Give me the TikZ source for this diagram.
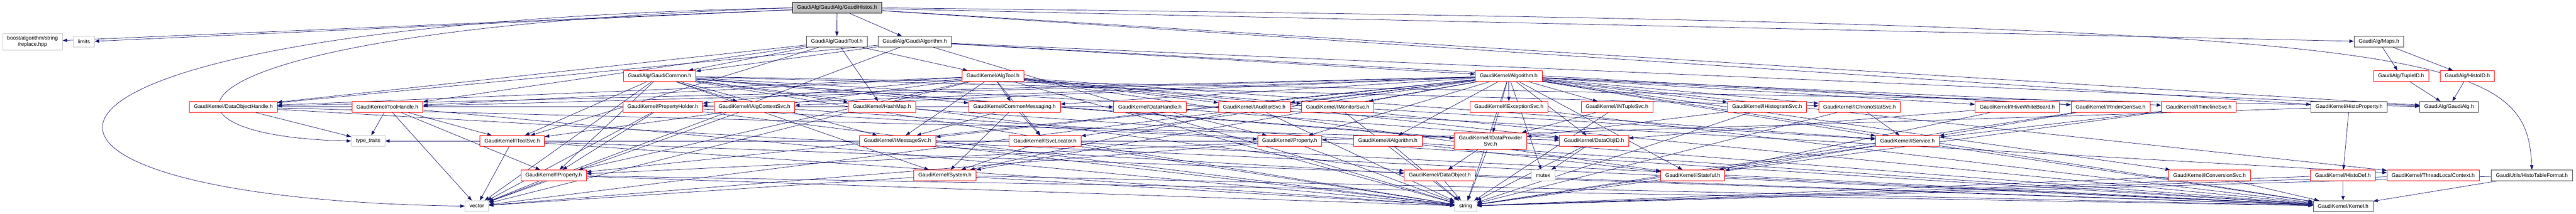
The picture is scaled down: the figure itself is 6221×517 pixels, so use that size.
\documentclass[tikz,border=0pt]{standalone}
\usepackage{fontspec}
\setmainfont{Liberation Sans}
\usepackage{tikz}
\usetikzlibrary{arrows.meta, positioning, backgrounds}
\definecolor{edgeblue}{RGB}{25,25,112}
\definecolor{rootgrey}{RGB}{191,191,191}
\definecolor{sysgrey}{RGB}{200,200,200}
\tikzset{
->, % every connector is an include
>={Triangle[length=11pt,width=8pt]}, % filled heads like dot draws them
dep/.style={draw=edgeblue, line width=0.9pt}, % include lines
every edge/.style={dep},
file/.style={draw, fill=white, rectangle, line width=1pt, inner xsep=11pt, minimum height=26pt, align=center, font=\fontsize{12.8}{15}\selectfont}, % one header
root/.style={file, draw=black, fill=rootgrey},
known/.style={file, draw=black!75},
cut/.style={file, draw=red}, % graph cut below this header
sys/.style={file, draw=sysgrey},
}

\begin{document}
\begin{tikzpicture}[x=1pt, y=-1pt]
\useasboundingbox (0,0) rectangle (6221,517);
% top
\node[root] (gh) at (2021.5,19) {GaudiAlg/GaudiAlg/GaudiHistos.h};
% first row
\node[sys, minimum height=40pt] (boost) at (78.5,101) {boost/algorithm/string\\/replace.hpp};
\node[sys] (limits) at (202.5,101) {limits};
\node[known] (gtool) at (2021,101) {GaudiAlg/GaudiTool.h};
\node[known] (galgo) at (2209,101) {GaudiAlg/GaudiAlgorithm.h};
\node[known] (maps) at (5745,101) {GaudiAlg/Maps.h};
% second row
\node[cut] (gcommon) at (1593,184) {GaudiAlg/GaudiCommon.h};
\node[cut] (algtool) at (2398,184) {GaudiKernel/AlgTool.h};
\node[cut] (algorithm) at (3643.5,184) {GaudiKernel/Algorithm.h};
\node[cut] (tupleid) at (5798.5,184) {GaudiAlg/TupleID.h};
\node[cut] (histoid) at (5958.5,184) {GaudiAlg/HistoID.h};
% third row
\node[cut] (dohandle) at (563.5,258.5) {GaudiKernel/DataObjectHandle.h};
\node[cut] (toolhandle) at (935.5,258.5) {GaudiKernel/ToolHandle.h};
\node[cut] (propholder) at (1600.5,258.5) {GaudiKernel/PropertyHolder.h};
\node[cut] (algctx) at (1822,258.5) {GaudiKernel/IAlgContextSvc.h};
\node[cut] (hashmap) at (2130,258.5) {GaudiKernel/HashMap.h};
\node[cut] (commsg) at (2450,258.5) {GaudiKernel/CommonMessaging.h};
\node[cut] (datahandle) at (2777,258.5) {GaudiKernel/DataHandle.h};
\node[cut] (iauditor) at (3029,258.5) {GaudiKernel/IAuditorSvc.h};
\node[cut] (imonitor) at (3230.5,258.5) {GaudiKernel/IMonitorSvc.h};
\node[cut] (iexception) at (3644,258.5) {GaudiKernel/IExceptionSvc.h};
\node[cut] (intuple) at (3905,258.5) {GaudiKernel/INTupleSvc.h};
\node[cut] (ihisto) at (4267.5,258.5) {GaudiKernel/IHistogramSvc.h};
\node[cut] (ichrono) at (4490.5,258.5) {GaudiKernel/IChronoStatSvc.h};
\node[cut] (ihive) at (4871.5,258.5) {GaudiKernel/IHiveWhiteBoard.h};
\node[cut] (irndm) at (5097,258.5) {GaudiKernel/IRndmGenSvc.h};
\node[cut] (itimeline) at (5310,258.5) {GaudiKernel/ITimelineSvc.h};
\node[known] (histoprop) at (5673,258.5) {GaudiKernel/HistoProperty.h};
\node[known] (gaudialg) at (5914.5,258.5) {GaudiAlg/GaudiAlg.h};
% fourth row
\node[sys] (typetraits) at (889,341) {type\_traits};
\node[cut] (itoolsvc) at (1237,341) {GaudiKernel/IToolSvc.h};
\node[cut] (imsgsvc) at (2167.5,341) {GaudiKernel/IMessageSvc.h};
\node[cut] (isvcloc) at (2523.5,341) {GaudiKernel/ISvcLocator.h};
\node[cut] (property) at (3114.5,341) {GaudiKernel/Property.h};
\node[cut] (ialgorithm) at (3351.5,341) {GaudiKernel/IAlgorithm.h};
\node[cut, minimum height=40pt] (idataprov) at (3599.5,341) {GaudiKernel/IDataProvider\\Svc.h};
\node[cut] (dataobjid) at (3849.5,341) {GaudiKernel/DataObjID.h};
\node[cut] (iservice) at (4606.5,341) {GaudiKernel/IService.h};
% fifth row
\node[cut] (iproperty) at (1337,424) {GaudiKernel/IProperty.h};
\node[cut] (system) at (2282,424) {GaudiKernel/System.h};
\node[cut] (dataobject) at (3477,424) {GaudiKernel/DataObject.h};
\node[sys] (mutex) at (3726.5,424) {mutex};
\node[cut] (istateful) at (4088,424) {GaudiKernel/IStateful.h};
\node[cut] (iconv) at (5336,424) {GaudiKernel/IConversionSvc.h};
\node[cut] (histodef) at (5658,424) {GaudiKernel/HistoDef.h};
\node[cut] (tlctx) at (5876,424) {GaudiKernel/ThreadLocalContext.h};
\node[known] (histotable) at (6114.5,424) {GaudiUtils/HistoTableFormat.h};
% bottom row
\node[sys] (vector) at (1151.5,498.5) {vector};
\node[sys] (string) at (3539.5,498.5) {string};
\node[known] (kernel) at (5658.5,498.5) {GaudiKernel/Kernel.h};

\begin{scope}[on background layer]
% the long ones dot routes round the side
\draw[dep] (gh.west) .. controls (-150,60) and (-150,480) .. (vector.west);
\draw[dep] (gh.west) .. controls (350,70) and (300,330) .. (typetraits.west);
\draw[dep] (gh.east) .. controls (5900,60) and (6100,110) .. (histotable.north);

\draw
    (gh) edge (boost)
    (gh) edge (limits)
    (gh) edge (gtool)
    (gh) edge (galgo)
    (gh) edge (maps)
    (gh) edge (histoprop)
    (gh) edge (gaudialg)
    (gtool) edge (gcommon)
    (gtool) edge (algtool)
    (gtool) edge (dohandle)
    (gtool) edge (toolhandle)
    (gtool) edge (itoolsvc)
    (gtool) edge (hashmap)
    (galgo) edge (gcommon)
    (galgo) edge (algorithm)
    (galgo) edge (dohandle)
    (galgo) edge (gaudialg)
    (galgo) edge (irndm)
    (galgo) edge (vector)
    (galgo) edge (string)
    (gcommon) edge (gaudialg)
    (gcommon) edge (algctx)
    (gcommon) edge (hashmap)
    (gcommon) edge (commsg)
    (gcommon) edge (imsgsvc)
    (gcommon) edge (itoolsvc)
    (gcommon) edge (ichrono)
    (gcommon) edge (idataprov)
    (gcommon) edge (dataobject)
    (gcommon) edge (system)
    (gcommon) edge (tlctx)
    (gcommon) edge (iproperty)
    (gcommon) edge (vector)
    (gcommon) edge (string)
    (gcommon) edge (kernel)
    (algtool) edge (propholder)
    (algtool) edge (commsg)
    (algtool) edge (isvcloc)
    (algtool) edge (imsgsvc)
    (algtool) edge (toolhandle)
    (algtool) edge (dohandle)
    (algtool) edge (iauditor)
    (algtool) edge (imonitor)
    (algtool) edge (iproperty)
    (algtool) edge (iservice)
    (algtool) edge (istateful)
    (algtool) edge (itoolsvc)
    (algtool) edge (dataobjid)
    (algtool) edge (vector)
    (algtool) edge (string)
    (algtool) edge (kernel)
    (algorithm) edge (propholder)
    (algorithm) edge (algctx)
    (algorithm) edge (commsg)
    (algorithm) edge (toolhandle)
    (algorithm) edge (dohandle)
    (algorithm) edge (iauditor)
    (algorithm) edge (imonitor)
    (algorithm) edge (iexception)
    (algorithm) edge (intuple)
    (algorithm) edge (ihisto)
    (algorithm) edge (ichrono)
    (algorithm) edge (ihive)
    (algorithm) edge (irndm)
    (algorithm) edge (itimeline)
    (algorithm) edge (iconv)
    (algorithm) edge (tlctx)
    (algorithm) edge (ialgorithm)
    (algorithm) edge (idataprov)
    (algorithm) edge (dataobjid)
    (algorithm) edge (iservice)
    (algorithm) edge (istateful)
    (algorithm) edge (isvcloc)
    (algorithm) edge (imsgsvc)
    (algorithm) edge (property)
    (algorithm) edge (system)
    (algorithm) edge (iproperty)
    (algorithm) edge (mutex)
    (algorithm) edge (string)
    (algorithm) edge (vector)
    (algorithm) edge (kernel)
    (maps) edge (tupleid)
    (maps) edge (histoid)
    (tupleid) edge (gaudialg)
    (histoid) edge (gaudialg)
    (histoprop) edge (histodef)
    (histoprop) edge (property)
    (histodef) edge (kernel)
    (histodef) edge (string)
    (histotable) edge (kernel)
    (histotable) edge (string)
    (tlctx) edge (string)
    (dohandle) edge (typetraits)
    (dohandle) edge (datahandle)
    (dohandle) edge (dataobjid)
    (dohandle) edge (dataobject)
    (toolhandle) edge (typetraits)
    (toolhandle) edge (itoolsvc)
    (toolhandle) edge (iproperty)
    (toolhandle) edge (vector)
    (toolhandle) edge (string)
    (propholder) edge (iproperty)
    (propholder) edge (property)
    (propholder) edge (vector)
    (propholder) edge (string)
    (algctx) edge (vector)
    (algctx) edge (kernel)
    (hashmap) edge (kernel)
    (commsg) edge (imsgsvc)
    (commsg) edge (isvcloc)
    (commsg) edge (system)
    (datahandle) edge (property)
    (datahandle) edge (dataobjid)
    (iauditor) edge (system)
    (iauditor) edge (string)
    (imonitor) edge (string)
    (imonitor) edge (iservice)
    (iexception) edge (kernel)
    (intuple) edge (idataprov)
    (intuple) edge (string)
    (ihisto) edge (idataprov)
    (ihisto) edge (string)
    (ichrono) edge (iservice)
    (ichrono) edge (string)
    (ihive) edge (dataobjid)
    (ihive) edge (istateful)
    (irndm) edge (iservice)
    (irndm) edge (string)
    (itimeline) edge (iservice)
    (itimeline) edge (string)
    (iconv) edge (kernel)
    (iconv) edge (string)
    (idataprov) edge (dataobject)
    (idataprov) edge (string)
    (dataobjid) edge (mutex)
    (dataobjid) edge (string)
    (property) edge (iproperty)
    (property) edge (typetraits)
    (property) edge (string)
    (property) edge (vector)
    (ialgorithm) edge (istateful)
    (ialgorithm) edge (string)
    (iservice) edge (istateful)
    (iservice) edge (kernel)
    (iservice) edge (string)
    (isvcloc) edge (system)
    (isvcloc) edge (string)
    (isvcloc) edge (kernel)
    (istateful) edge (kernel)
    (iproperty) edge (vector)
    (iproperty) edge (string)
    (iproperty) edge (kernel)
    (system) edge (vector)
    (system) edge (string)
    (system) edge (kernel)
    (dataobject) edge (string)
    (dataobject) edge (kernel)
    (imsgsvc) edge (string)
    (imsgsvc) edge (kernel)
    (itoolsvc) edge (vector)
    (itoolsvc) edge (string)
    (itoolsvc) edge (kernel)
    ;
\end{scope}
\end{tikzpicture}
\end{document}
